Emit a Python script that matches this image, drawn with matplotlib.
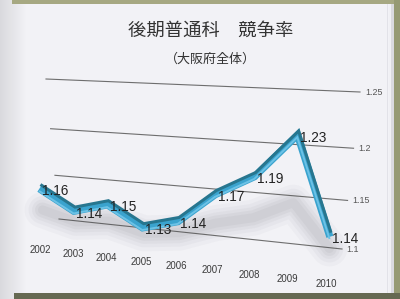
import numpy as np
import matplotlib
matplotlib.use('Agg')
import matplotlib.pyplot as plt
from matplotlib.transforms import Transform, offset_copy

# ---------------- data ----------------
years = ['2002', '2003', '2004', '2005', '2006', '2007', '2008', '2009', '2010']
values = [1.16, 1.14, 1.15, 1.13, 1.14, 1.17, 1.19, 1.23, 1.14]
value_labels = ['1.16', '1.14', '1.15', '1.13', '1.14', '1.17', '1.19', '1.23', '1.14']
grid_values = [1.10, 1.15, 1.20, 1.25]
grid_labels = ['1.1', '1.15', '1.2', '1.25']
title = '後期普通科　競争率'
subtitle = '（大阪府全体）'

# ---------------- perspective helpers ----------------
def homography(src, dst):
    A, b = [], []
    for (x, y), (u, v) in zip(src, dst):
        A.append([x, y, 1, 0, 0, 0, -u * x, -u * y]); b.append(u)
        A.append([0, 0, 0, x, y, 1, -v * x, -v * y]); b.append(v)
    h = np.linalg.solve(np.array(A, float), np.array(b, float))
    return np.append(h, 1.0).reshape(3, 3)


class Persp(Transform):
    input_dims = 2
    output_dims = 2
    is_separable = False
    has_inverse = False

    def __init__(self, H):
        super().__init__()
        self.H = H

    def transform_non_affine(self, values):
        v = np.asarray(values, float).reshape(-1, 2)
        p = np.column_stack([v, np.ones(len(v))]) @ self.H.T
        return p[:, :2] / p[:, 2:3]


W, Hh = 400, 299
fig = plt.figure(figsize=(W / 100, Hh / 100), dpi=100)
ax = fig.add_axes([0, 0, 1, 1])
ax.set_xlim(0, W)
ax.set_ylim(Hh, 0)
ax.axis('off')

# ---------------- background (notebook page) ----------------
bg = np.ones((Hh, W, 3)) * np.array([242, 242, 246]) / 255.0
xs = np.arange(W)
shade = np.clip(0.90 + 0.10 * (xs / 26.0), 0.90, 1.0)
bg *= shade[None, :, None]
bg[0:4, 12:] = np.array([166, 168, 130]) / 255.0
bg[:, 394:] = np.array([150, 154, 116]) / 255.0
bg[293:, 14:] = np.array([102, 105, 82]) / 255.0
bg[4:293, 387] = np.array([226, 226, 232]) / 255.0
bg[4:293, 389:391] = np.array([240, 240, 244]) / 255.0
bg[4:293, 391:394] = np.array([218, 218, 224]) / 255.0
ax.imshow(bg, extent=(0, W, Hh, 0), aspect='auto', interpolation='nearest', zorder=0)

n = len(years)
idx = np.arange(n)

# back wall (gridlines)
H_wall = homography([(0, 1.25), (1, 1.25), (0, 1.10), (1, 1.10)],
                    [(46, 79), (360, 92), (59, 219), (342, 249)])
T_wall = Persp(H_wall) + ax.transData
# series plane
H_line = homography([(0, 1.25), (n - 1, 1.25), (0, 1.10), (n - 1, 1.10)],
                    [(33, 92), (343, 110), (45, 241), (327, 273)])
T_line = Persp(H_line) + ax.transData
# category label row
H_lab = homography([(0, 1.25), (n - 1, 1.25), (0, 1.09), (n - 1, 1.09)],
                   [(28, 90), (342, 110), (40, 250), (326, 284)])
T_lab = Persp(H_lab) + ax.transData

num_font = ['Liberation Sans', 'DejaVu Sans']

# gridlines + tick labels
for gv, gl in zip(grid_values, grid_labels):
    ax.plot([0, 1], [gv, gv], transform=T_wall, color='#6e6e6e', lw=0.8, zorder=2)
    ax.text(1.015, gv, gl, transform=T_wall, ha='left', va='center',
            fontsize=6.4, color='#555555', family=num_font, zorder=3)

# shadow on floor
vals = np.array(values)
shadow_v = 1.12 + (vals - 1.13) * 0.45
for lw, a in [(36, 0.03), (28, 0.04), (21, 0.045), (15, 0.05), (9, 0.05)]:
    ax.plot(idx, shadow_v, transform=T_line, color='#505058', lw=lw * 0.72,
            alpha=a, solid_capstyle='round', solid_joinstyle='round', zorder=3)

# ribbon
face_t = offset_copy(T_line, fig=fig, x=-0.8, y=-3.0, units='points')
hl_t = offset_copy(T_line, fig=fig, x=-1.0, y=-4.6, units='points')
ax.plot(idx, values, transform=face_t, color='#3aa3ce', lw=5.2,
        solid_joinstyle='miter', solid_capstyle='butt', zorder=4)
ax.plot(idx, values, transform=hl_t, color='#6cc2e6', lw=1.4,
        solid_joinstyle='miter', solid_capstyle='butt', zorder=5)
ax.plot(idx, values, transform=T_line, color='#27768f', lw=2.2,
        solid_joinstyle='miter', solid_capstyle='butt', zorder=6)

# data labels
lab_t = offset_copy(T_line, fig=fig, x=1.0, y=-4.8, units='points')
for i, (v, s) in enumerate(zip(values, value_labels)):
    ax.text(i, v, s, transform=lab_t, ha='left', va='center', fontsize=9.8,
            color='#222222', family=num_font, zorder=7)

# category labels
for i, y in enumerate(years):
    ax.text(i, 1.09, y, transform=T_lab, ha='center', va='center', fontsize=6.9,
            color='#3a3a3a', family=num_font, zorder=7)

# titles
cjk = ['Noto Sans CJK JP', 'DejaVu Sans']
ax.text(211, 31, title, ha='center', va='center', fontsize=13.2, color='#333333',
        family=cjk, zorder=7)
ax.text(210, 59, subtitle, ha='center', va='center', fontsize=9.4, color='#333333',
        family=cjk, zorder=7)

fig.savefig('out.png', dpi=100)
